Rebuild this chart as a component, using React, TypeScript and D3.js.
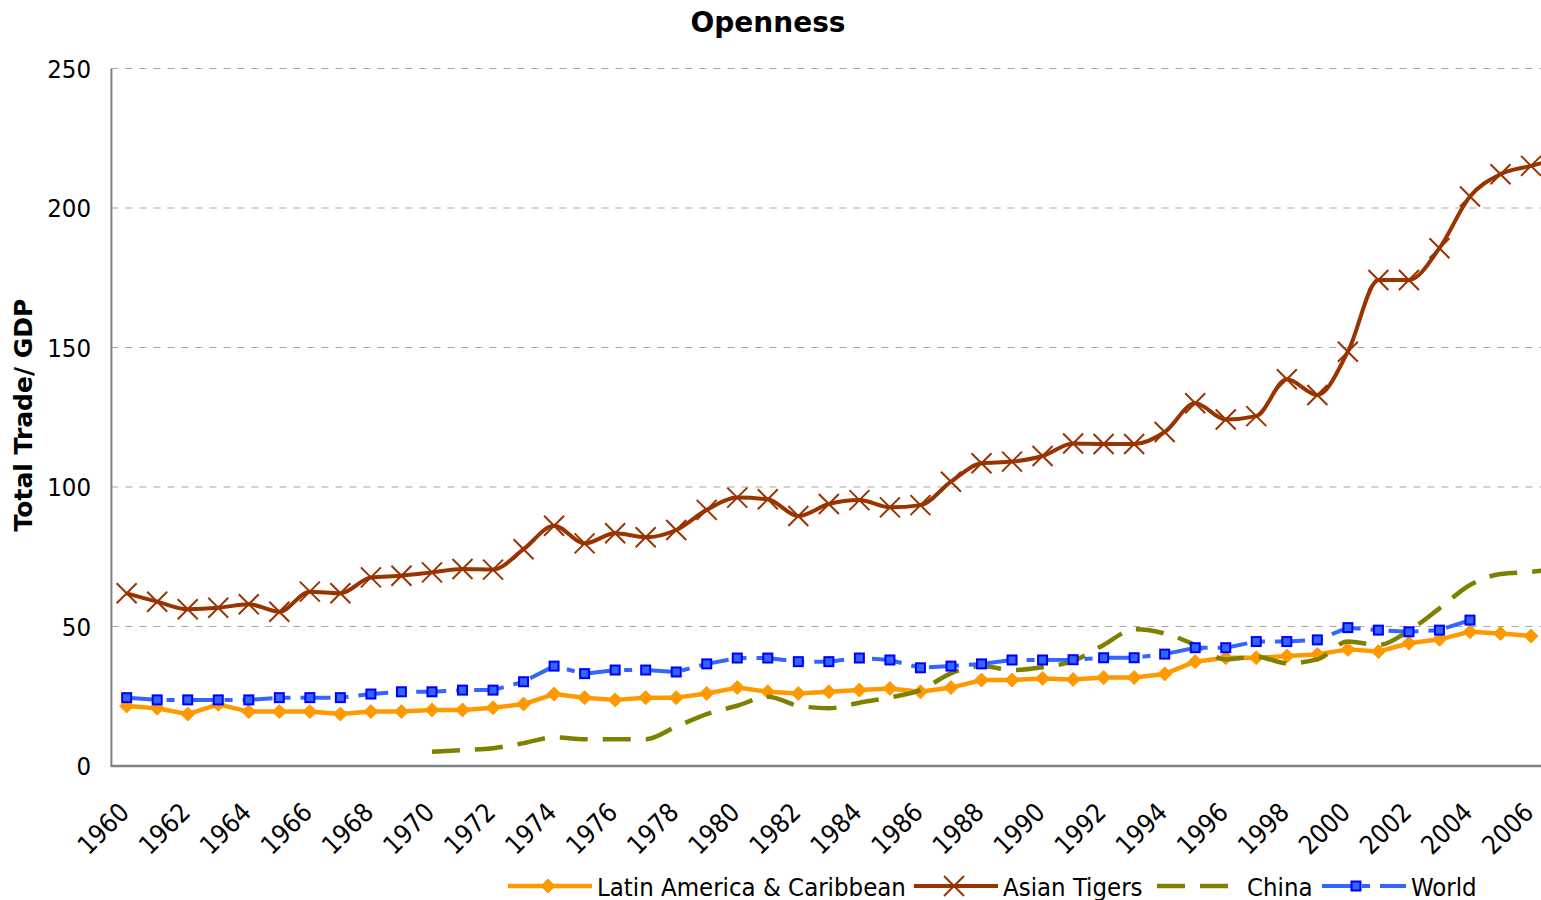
import React from 'react';
import * as d3 from 'd3';

const years = [1960,1961,1962,1963,1964,1965,1966,1967,1968,1969,1970,1971,1972,1973,1974,1975,1976,1977,1978,1979,1980,1981,1982,1983,1984,1985,1986,1987,1988,1989,1990,1991,1992,1993,1994,1995,1996,1997,1998,1999,2000,2001,2002,2003,2004,2005,2006,2007];

const latinAmerica: (number | null)[] = [21.5,20.7,18.6,22.1,19.5,19.5,19.5,18.6,19.5,19.5,20.1,20.1,20.9,22.2,25.8,24.5,23.7,24.5,24.5,26.0,28.1,26.6,26.0,26.6,27.2,27.8,26.6,28.1,30.8,30.8,31.4,31.0,31.7,31.7,33.0,37.4,38.8,38.8,39.4,40.0,41.8,41.0,44.0,45.4,48.1,47.5,46.6,null];

const asianTigers: (number | null)[] = [61.9,58.9,56.2,56.7,58.0,55.3,62.5,61.9,67.6,68.2,69.4,70.6,70.4,77.7,86.1,79.8,83.4,82.0,84.6,91.8,96.2,95.6,89.6,93.9,95.3,92.7,93.5,101.9,108.5,109.1,111.1,115.6,115.4,115.4,119.7,130.0,124.2,125.4,138.6,133.0,148.5,174.2,174.2,185.6,204.1,212.1,215.1,218.0];

const china: (number | null)[] = [null,null,null,null,null,null,null,null,null,null,5.1,5.7,6.4,8.2,10.3,9.6,9.6,9.6,14.1,18.6,21.6,24.8,21.6,20.7,22.7,24.6,27.2,33.2,35.8,34.4,35.4,37.6,43.4,49.0,47.5,43.4,38.2,39.2,36.8,38.2,44.6,43.4,48.5,56.5,64.9,68.8,69.6,71.0];

const world: (number | null)[] = [24.5,23.7,23.7,23.7,23.7,24.5,24.5,24.5,25.8,26.6,26.6,27.2,27.2,30.2,35.8,33.1,34.4,34.4,33.7,36.6,38.7,38.7,37.4,37.4,38.7,38.0,35.2,35.8,36.6,38.0,38.0,38.1,38.8,38.8,40.1,42.4,42.4,44.6,44.6,45.2,49.6,48.7,48.1,48.7,52.3,null,null,null];

const yTicks = [0, 50, 100, 150, 200, 250];
const xTickYears = years.filter((y) => y % 2 === 0 && y <= 2006);

const seriesNames = ['Latin America & Caribbean', 'Asian Tigers', 'China', 'World'];

const W = 1541;
const H = 900;
const plotLeft = 111.4;
const bandW = 30.53;
const plotBottom = 766;
const plotTop = 68.5;
const plotRight = plotLeft + bandW * years.length;

const FONT = "'DejaVu Sans Condensed', 'DejaVu Sans', sans-serif";
const FONT_BOLD = "'DejaVu Sans', sans-serif";

type Style = {
  color: string;
  width: number;
  dash?: string;
  marker: 'diamond' | 'x' | 'none' | 'square';
  curve: d3.CurveFactory;
};

const styles: Style[] = [
  { color: '#FF9900', width: 4.5, marker: 'diamond', curve: d3.curveLinear },
  { color: '#993300', width: 4, marker: 'x', curve: d3.curveMonotoneX },
  { color: '#808000', width: 4.5, dash: '28,15', marker: 'none', curve: d3.curveMonotoneX },
  { color: '#3366FF', width: 4, dash: '30,10,8,10', marker: 'square', curve: d3.curveLinear },
];

function Marker({ kind, x, y }: { kind: Style['marker']; x: number; y: number }) {
  if (kind === 'diamond') {
    const r = 7;
    return <path d={`M${x},${y - r}L${x + r},${y}L${x},${y + r}L${x - r},${y}Z`} fill="#FF9900" stroke="#FF9900" strokeWidth={1} />;
  }
  if (kind === 'x') {
    const r = 10;
    return <path d={`M${x - r},${y - r}L${x + r},${y + r}M${x - r},${y + r}L${x + r},${y - r}`} stroke="#993300" strokeWidth={2} fill="none" />;
  }
  if (kind === 'square') {
    const r = 4.5;
    return <rect x={x - r} y={y - r} width={2 * r} height={2 * r} fill="#3366FF" stroke="#0000FF" strokeWidth={2} />;
  }
  return null;
}

export default function App() {
  const x = d3.scaleBand<number>().domain(years).range([plotLeft, plotRight]);
  const cx = (yr: number) => (x(yr) as number) + x.bandwidth() / 2;
  const y = d3.scaleLinear().domain([0, 250]).range([plotBottom, plotTop]);

  const allSeries = [latinAmerica, asianTigers, china, world];

  const legendItems = [
    { line: [508, 592], text: 597 },
    { line: [914, 998], text: 1003 },
    { line: [1157, 1241], text: 1247 },
    { line: [1322, 1406], text: 1411 },
  ];
  const legendY = 886;

  return (
    <svg width={W} height={H} style={{ position: 'absolute', left: 0, top: 0, background: '#fff' }}>
      <rect x={0} y={0} width={W} height={H} fill="#fff" />
      <text x={768} y={32} textAnchor="middle" fontFamily={FONT_BOLD} fontWeight="bold" fontSize={28} fill="#000">Openness</text>

      {yTicks.filter((t) => t > 0).map((t) => (
        <line key={t} x1={plotLeft} x2={plotRight} y1={y(t)} y2={y(t)} stroke="#A6A6A6" strokeWidth={1} strokeDasharray="7,7" />
      ))}

      <line x1={plotLeft} x2={plotLeft} y1={plotTop} y2={plotBottom} stroke="#808080" strokeWidth={2} />
      <line x1={plotLeft - 1} x2={plotRight} y1={plotBottom} y2={plotBottom} stroke="#808080" strokeWidth={2.5} />

      {yTicks.map((t) => (
        <text key={t} x={91} y={y(t)} textAnchor="end" dominantBaseline="central" fontFamily={FONT} fontSize={25.5} fill="#000">{t}</text>
      ))}

      <text transform={`translate(32,415) rotate(-90)`} textAnchor="middle" fontFamily={FONT_BOLD} fontWeight="bold" fontSize={25} fill="#000">Total Trade/ GDP</text>

      {xTickYears.map((yr) => (
        <text key={yr} transform={`translate(${cx(yr) + 4},814) rotate(-45)`} textAnchor="end" fontFamily={FONT} fontSize={26} fill="#000">{yr}</text>
      ))}

      {allSeries.map((vals, si) => {
        const st = styles[si];
        const pts = years.map((yr, i) => ({ yr, v: vals[i] }));
        const line = d3
          .line<{ yr: number; v: number | null }>()
          .defined((d) => d.v != null)
          .x((d) => cx(d.yr))
          .y((d) => y(d.v as number))
          .curve(st.curve);
        return (
          <g key={si}>
            <path d={line(pts) || ''} fill="none" stroke={st.color} strokeWidth={st.width} strokeDasharray={st.dash} strokeLinejoin="round" />
            {pts.filter((d) => d.v != null).map((d) => (
              <Marker key={d.yr} kind={st.marker} x={cx(d.yr)} y={y(d.v as number)} />
            ))}
          </g>
        );
      })}

      {legendItems.map((it, i) => {
        const st = styles[i];
        const mid = (it.line[0] + it.line[1]) / 2;
        return (
          <g key={i}>
            <line x1={it.line[0]} x2={it.line[1]} y1={legendY} y2={legendY} stroke={st.color} strokeWidth={st.width} strokeDasharray={st.dash} />
            <Marker kind={st.marker} x={i === 3 ? mid - 8 : mid - 2} y={legendY} />
            <text x={it.text} y={legendY + 9.5} fontFamily={FONT} fontSize={25.5} fill="#000">{seriesNames[i]}</text>
          </g>
        );
      })}
    </svg>
  );
}
